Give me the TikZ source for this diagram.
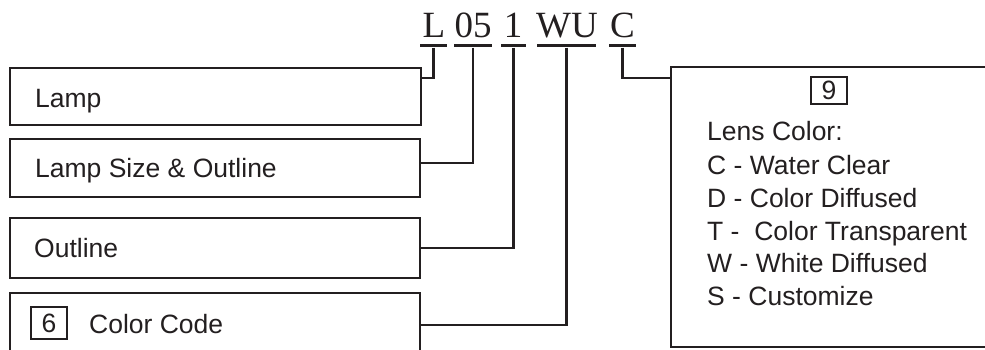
\documentclass[tikz,border=0pt]{standalone}
\usepackage{fontspec}
\setmainfont{Liberation Sans}
\newfontfamily\titlefont{Liberation Serif}
\definecolor{ink}{HTML}{231F20}
\begin{document}
\begin{tikzpicture}[x=1pt,y=-1pt,
  box/.style={draw=ink,line width=2.2pt,inner sep=0pt,fill=white},
  lbl/.style={anchor=base west,inner sep=0pt,text=ink,font=\fontsize{26.5}{30}\selectfont},
  numbox/.style={draw=ink,line width=1.8pt,inner sep=0pt,text=ink,font=\fontsize{26.5}{30}\selectfont},
  tok/.style={anchor=base,inner sep=0pt,text=ink,font=\titlefont\fontsize{37}{40}\selectfont},
  uline/.style={fill=ink,inner sep=0pt,minimum height=3pt},
  conn/.style={draw=ink,line width=2.2pt}]
\useasboundingbox (0,0) rectangle (985,350);
\clip (0,0) rectangle (985,350);
% title
\node[tok] (tL) at (434,38) {L};
\node[tok] (t05) at (473,38) {05};
\node[tok] (t1) at (513,38) {1};
\node[tok] (tWU) at (567,38) {WU};
\node[tok] (tC) at (622.5,38) {C};
\node[uline,minimum width=27pt] (uL) at (433.5,46) {};
\node[uline,minimum width=38pt] (u05) at (473,46) {};
\node[uline,minimum width=25pt] (u1) at (513.5,46) {};
\node[uline,minimum width=59pt] (uWU) at (566.5,46) {};
\node[uline,minimum width=27pt] (uC) at (622.5,46) {};
% left boxes
\node[box,minimum width=411pt,minimum height=57pt] (Lamp) at (215.5,96.5) {};
\node[box,minimum width=410pt,minimum height=58pt] (LSO) at (215,168) {};
\node[box,minimum width=410pt,minimum height=60pt] (Outline) at (215,248) {};
\node[box,minimum width=410pt,minimum height=64pt] (Color) at (215,325) {};
\node[lbl] (tLamp) at (35,107.5) {Lamp};
\node[lbl] (tLSO) at (35,177.5) {Lamp Size \& Outline};
\node[lbl] (tOutline) at (34,257) {Outline};
\node[numbox,minimum width=36pt,minimum height=32pt] (six) at (49,323) {6};
\node[lbl] (tColor) at (89,333) {Color Code};
% right box
\node[box,minimum width=316pt,minimum height=280pt] (Lens) at (829,207) {};
\node[numbox,minimum width=36pt,minimum height=27pt] (nine) at (829,90.5) {9};
\node[lbl] (l1) at (707,141) {Lens Color:};
\node[lbl] (l2) at (707,174) {C - Water Clear};
\node[lbl] (l3) at (707,207) {D - Color Diffused};
\node[lbl] (l4) at (707,240) {T -\ \ Color Transparent};
\node[lbl] (l5) at (707,272.5) {W - White Diffused};
\node[lbl] (l6) at (707,305) {S - Customize};
% connectors
\draw[conn] (uL.south) |- ([yshift=-11pt]Lamp.north east);
\draw[conn] (u05.south) |- ([yshift=5pt]LSO.east);
\draw[conn] (u1.south) |- (Outline.east);
\draw[conn] (uWU.south) |- (Color.east);
\draw[conn] (uC.south) |- ([yshift=-12pt]Lens.north west);
\end{tikzpicture}
\end{document}
